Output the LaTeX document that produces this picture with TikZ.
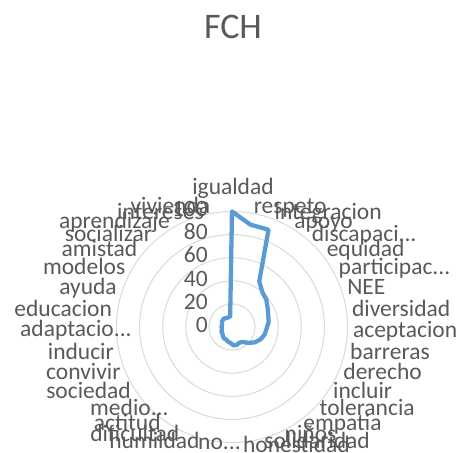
\documentclass[tikz,border=0pt]{standalone}
\usepackage{fontspec}
\setmainfont{Carlito}
\definecolor{chartgray}{HTML}{595959}
\definecolor{gridgray}{HTML}{D9D9D9}
\definecolor{seriesblue}{HTML}{5B9BD5}
\usetikzlibrary{calc}

\tikzset{
  catlabel/.style={text=chartgray, font=\fontsize{23.5}{23.5}\selectfont, inner sep=0pt, text height=16pt, text depth=5.4pt},
  rightlabel/.style={catlabel, anchor=west},
  leftlabel/.style={catlabel, anchor=east},
  ticklabel/.style={catlabel, anchor=east},
  gridring/.style={draw=gridgray, line width=1pt},
  seriesline/.style={draw=seriesblue, line width=4.3pt, line join=round},
}

\begin{document}
\begin{tikzpicture}[x=1pt, y=1pt]
  \useasboundingbox (0,0) rectangle (459,453);

  % Title
  \node[text=chartgray, font=\fontsize{36}{36}\selectfont, inner sep=0pt] (title) at (233,426) {FCH};

  \begin{scope}[shift={(232,126)}]
    % Rings
    \foreach \r in {20,40,...,100}
      \draw[gridring] (0,0) circle ({\r*1.155});

    % Value axis
    \foreach \v in {0,20,...,100}
      \node[ticklabel] (tick\v) at (-24,{\v*1.155}) {\v};

    % Series FCH
    \foreach \v [count=\i from 0] in {100,90,90,46,40,38,35,33,32,30,29,27,24,20,16,15,16,16,
                                      14,13,12,12,11,10,10,9,9,9,9,10,10,10,9,9,9}
      \coordinate (p\i) at ({90-\i*360/35}:{\v*1.155});
    \draw[seriesline] (p0) \foreach \i in {1,...,34} {-- (p\i)} -- cycle;

    % Category labels
    \node[catlabel] (igualdad) at (1,138) {igualdad};
    \node[rightlabel] (respeto) at (79.714:121) {respeto};
    \node[rightlabel] (integracion) at (69.429:121) {integracion};
    \node[rightlabel] (apoyo) at (59.143:121) {apoyo};
    \node[rightlabel] (discapacidad) at (48.857:121) {discapaci...};
    \node[rightlabel] (equidad) at (38.571:121) {equidad};
    \node[rightlabel] (participacion) at (28.286:121) {participac...};
    \node[rightlabel] (nee) at (18:121) {NEE};
    \node[rightlabel] (diversidad) at (7.714:121) {diversidad};
    \node[rightlabel] (aceptacion) at (-2.571:121) {aceptacion};
    \node[rightlabel] (barreras) at (-12.857:121) {barreras};
    \node[rightlabel] (derecho) at (-23.143:121) {derecho};
    \node[rightlabel] (incluir) at (-33.429:121) {incluir};
    \node[rightlabel] (tolerancia) at (-43.714:121) {tolerancia};
    \node[rightlabel] (empatia) at (-54:121) {empatia};
    \node[rightlabel] (ninos) at (-64.286:121) {niños};
    \node[rightlabel] (solidaridad) at (-74.571:121) {solidaridad};
    \node[rightlabel] (honestidad) at (-84.857:121) {honestidad};
    \node[catlabel, anchor=west] (no) at (-34,-117) {no...};
    \node[leftlabel] (humildad) at (-105.429:121) {humildad};
    \node[leftlabel] (dificultad) at (-115.714:121) {dificultad};
    \node[leftlabel] (actitud) at (-126:121) {actitud};
    \node[catlabel, anchor=west] (medio) at (-142,-83) {medio...};
    \node[leftlabel] (sociedad) at (-146.571:121) {sociedad};
    \node[leftlabel] (convivir) at (-156.857:121) {convivir};
    \node[leftlabel] (inducir) at (-167.143:121) {inducir};
    \node[catlabel, anchor=west] (adaptacion) at (-212,-4) {adaptacio...};
    \node[leftlabel] (educacion) at (172.286:121) {educacion};
    \node[leftlabel] (ayuda) at (162:121) {ayuda};
    \node[leftlabel] (modelos) at (151.714:121) {modelos};
    \node[leftlabel] (amistad) at (141.429:121) {amistad};
    \node[leftlabel] (socializar) at (131.143:121) {socializar};
    \node[leftlabel] (aprendizaje) at (120.857:121) {aprendizaje};
    \node[catlabel, anchor=west] (intereses) at (-115,113) {intereses};
    \node[leftlabel] (vivienda) at (100.286:121) {vivienda};
  \end{scope}
\end{tikzpicture}
\end{document}
